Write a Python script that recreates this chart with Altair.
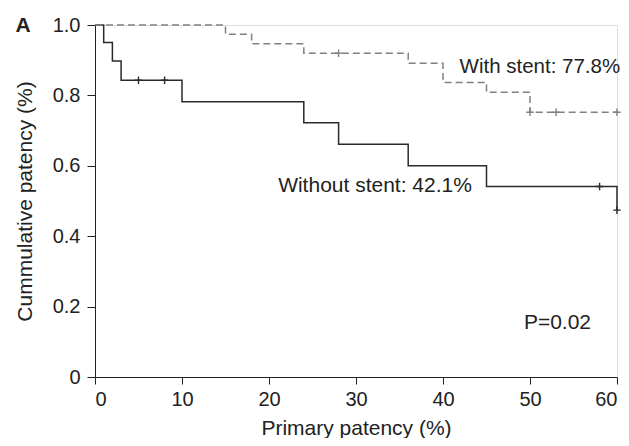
import altair as alt
import pandas as pd

# Without stent (solid) Kaplan-Meier steps
no_x = [0, 1, 2, 3, 10, 24, 28, 36, 45, 60]
no_y = [1.0, 0.95, 0.898, 0.843, 0.782, 0.722, 0.661, 0.600, 0.541, 0.474]
no_cens_x = [5, 8, 58, 60]
no_cens_y = [0.843, 0.843, 0.541, 0.474]

# With stent (dashed)
with_x = [0, 15, 18, 24, 36, 40, 45, 50, 60]
with_y = [1.0, 0.974, 0.947, 0.920, 0.891, 0.837, 0.809, 0.752, 0.752]
with_cens_x = [28, 50, 53, 60]
with_cens_y = [0.920, 0.752, 0.752, 0.752]

x_ticks = [0, 10, 20, 30, 40, 50, 60]
y_ticks = [0, 0.2, 0.4, 0.6, 0.8, 1.0]

ann_text = ["With stent: 77.8%", "Without stent: 42.1%", "P=0.02"]
ann_x = [41.9, 21.05, 49.3]
ann_y = [0.881, 0.543, 0.153]
ann_size = [20.5, 21, 21]

FONT = "Liberation Sans"
W, H = 522, 352
CROSS = "M-1,0L1,0M0,-1L0,1"

xs = alt.Scale(domain=[0, 60], nice=False, zero=False)
ys = alt.Scale(domain=[0, 1], nice=False)

xenc = alt.X("x:Q", scale=xs, axis=alt.Axis(
    values=x_ticks, title="Primary patency (%)", grid=False,
    domainColor="#222", tickColor="#222", tickSize=7, labelPadding=5,
    labelFontSize=20, labelColor="#222", labelFont=FONT,
    titleFontSize=21, titleFontWeight="normal", titleFont=FONT, titleColor="#222",
    titleX=W / 2, titleY=57, titleBaseline="alphabetic", titleAlign="center"))
yenc = alt.Y("y:Q", scale=ys, axis=alt.Axis(
    values=y_ticks, title="Cummulative patency (%)", grid=False,
    labelExpr="datum.value == 0 ? '0' : format(datum.value, '.1f')",
    domainColor="#222", tickColor="#222", tickSize=8, labelPadding=7,
    labelFontSize=20, labelColor="#222", labelFont=FONT,
    titleFontSize=21, titleFontWeight="normal", titleFont=FONT, titleColor="#222",
    titleX=-70, titleY=H / 2, titleBaseline="middle", titleAlign="center", titleAngle=-90))

df_no = pd.DataFrame({"x": no_x, "y": no_y})
df_with = pd.DataFrame({"x": with_x, "y": with_y})
df_nc = pd.DataFrame({"x": no_cens_x, "y": no_cens_y})
df_wc = pd.DataFrame({"x": with_cens_x, "y": with_cens_y})
df_ann = pd.DataFrame({"x": ann_x, "y": ann_y, "t": ann_text, "s": ann_size})

line_no = alt.Chart(df_no).mark_line(
    interpolate="step-after", color="#2a2a2a", strokeWidth=1.5
).encode(x=xenc, y=yenc)

line_with = alt.Chart(df_with).mark_line(
    interpolate="step-after", color="#808080", strokeWidth=1.5, strokeDash=[7, 4]
).encode(x="x:Q", y="y:Q")

cens_no = alt.Chart(df_nc).mark_point(
    shape=CROSS, filled=False, color="#2a2a2a", size=56, strokeWidth=1.4, opacity=1
).encode(x="x:Q", y="y:Q")

cens_with = alt.Chart(df_wc).mark_point(
    shape=CROSS, filled=False, color="#808080", size=56, strokeWidth=1.4, opacity=1
).encode(x="x:Q", y="y:Q")

ann = alt.Chart(df_ann).mark_text(
    align="left", baseline="middle", font=FONT, color="#222"
).encode(x="x:Q", y="y:Q", text="t:N",
         size=alt.Size("s:Q", scale=None, legend=None))

panel_label = alt.Chart(pd.DataFrame({"t": ["A"]})).mark_text(
    align="center", baseline="middle", fontSize=21, font=FONT, fontWeight="bold", color="#222"
).encode(x=alt.value(-72), y=alt.value(1), text="t:N")

chart = alt.layer(line_no, line_with, cens_no, cens_with, ann, panel_label).properties(
    width=W, height=H,
    autosize=alt.AutoSizeParams(type="none"),
    padding={"left": 87, "top": 17, "right": 4, "bottom": 61},
).configure_view(stroke=None).configure(background="white")

chart.save("out.html", embed_options={"renderer": "svg", "actions": False})
